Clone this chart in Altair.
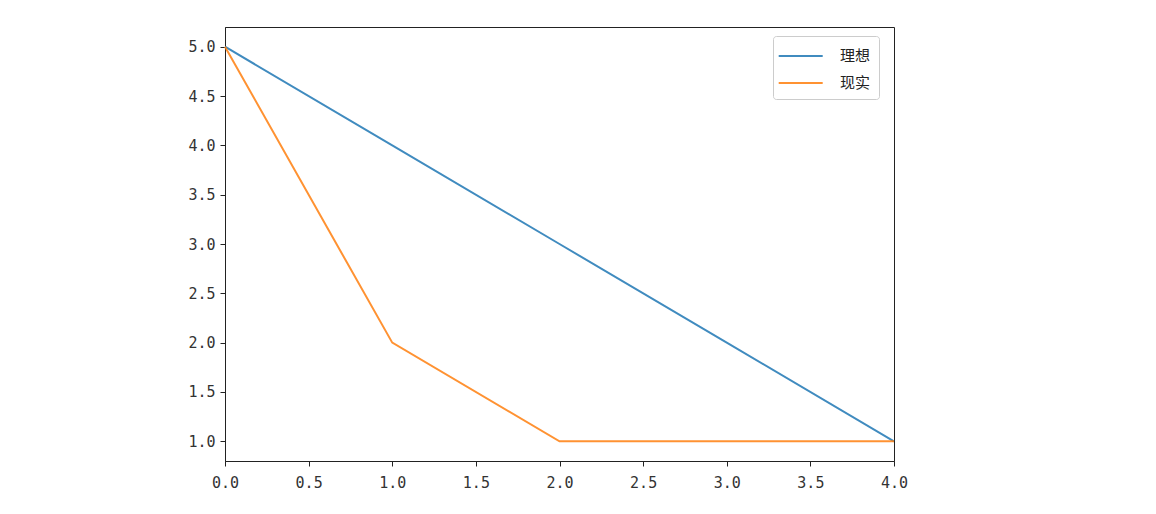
import altair as alt
import pandas as pd

x_vals = [0, 1, 2, 3, 4]
ideal = [5, 4, 3, 2, 1]
reality = [5, 2, 1, 1, 1]
series_names = ["理想", "现实"]
colors = ["#1f77b4", "#ff7f0e"]

rows = []
for name, ys in zip(series_names, [ideal, reality]):
    for x, y in zip(x_vals, ys):
        rows.append({"x": x, "y": y, "series": name})
df = pd.DataFrame(rows)

font = "Noto Sans CJK SC"
tick_font = "DejaVu Sans Mono"

chart = alt.Chart(df).mark_line(strokeWidth=2, opacity=0.85).encode(
    x=alt.X("x:Q", scale=alt.Scale(domain=[0, 4], nice=False, zero=False),
            axis=alt.Axis(values=[0, 0.5, 1, 1.5, 2, 2.5, 3, 3.5, 4], format=".1f",
                          title=None, grid=False, tickSize=5, labelPadding=9,
                          labelFlush=False)),
    y=alt.Y("y:Q", scale=alt.Scale(domain=[0.8, 5.2], nice=False, zero=False),
            axis=alt.Axis(values=[1, 1.5, 2, 2.5, 3, 3.5, 4, 4.5, 5], format=".1f",
                          title=None, grid=False, tickSize=5, labelPadding=5,
                          labelFlush=False)),
    color=alt.Color("series:N", scale=alt.Scale(domain=series_names, range=colors),
                    legend=alt.Legend(title=None, orient="none", legendX=548, legendY=9,
                                      symbolType="M-1.3,0H2.7", symbolSize=484, symbolStrokeWidth=2,
                                      labelFont=font, labelFontSize=15, labelColor="#222",
                                      strokeColor="#cccccc", cornerRadius=3, fillColor="white",
                                      padding=8, rowPadding=7, labelOffset=35)),
).properties(
    width=669, height=434,
    padding={"left": 217, "top": 19, "right": 30, "bottom": 40},
    autosize=alt.AutoSizeParams(type="none"),
).configure_view(
    stroke="#222", strokeWidth=1
).configure_axis(
    labelFont=tick_font, labelFontSize=15, labelColor="#333",
    domainColor="#222", tickColor="#222", domainWidth=1
)

chart.save("out.html", embed_options={"renderer": "svg", "actions": False})
